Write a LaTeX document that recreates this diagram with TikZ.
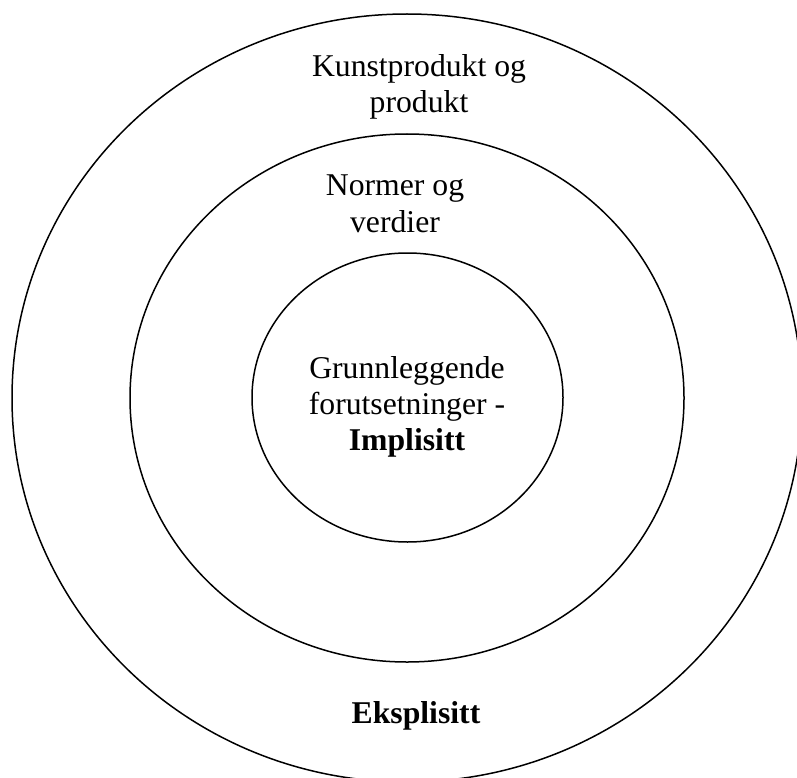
\documentclass[tikz,border=0pt]{standalone}
\usepackage{fontspec}
\setmainfont{Liberation Serif}
\usetikzlibrary{shapes.geometric}
\begin{document}
\begin{tikzpicture}[x=1pt,y=-1pt,
  ring/.style={ellipse,draw=black,line width=1.5pt,inner sep=0pt,fill=none},
  label/.style={align=center,inner sep=0pt,anchor=base,
    font=\fontsize{31.7}{36}\selectfont}]
  \useasboundingbox (0,0) rectangle (797,778);
  \clip (0,0) rectangle (797,778);
  % three concentric layers
  \node[ring,minimum width=790pt,minimum height=768pt] (outer) at (407,398) {};
  \node[ring,minimum width=554pt,minimum height=528pt] (middle) at (407,398) {};
  \node[ring,minimum width=311pt,minimum height=289pt] (inner) at (407.5,397.5) {};
  % layer texts (anchored at the baseline of their last line)
  \node[label] (artefakt) at (419,113) {Kunstprodukt og\\produkt};
  \node[label] (normer) at (395,232) {Normer og\\verdier};
  \node[label] (grunn) at (407,450) {Grunnleggende\\forutsetninger -\\\textbf{Implisitt}};
  \node[label] (eksplisitt) at (416,723) {\textbf{Eksplisitt}};
\end{tikzpicture}
\end{document}
